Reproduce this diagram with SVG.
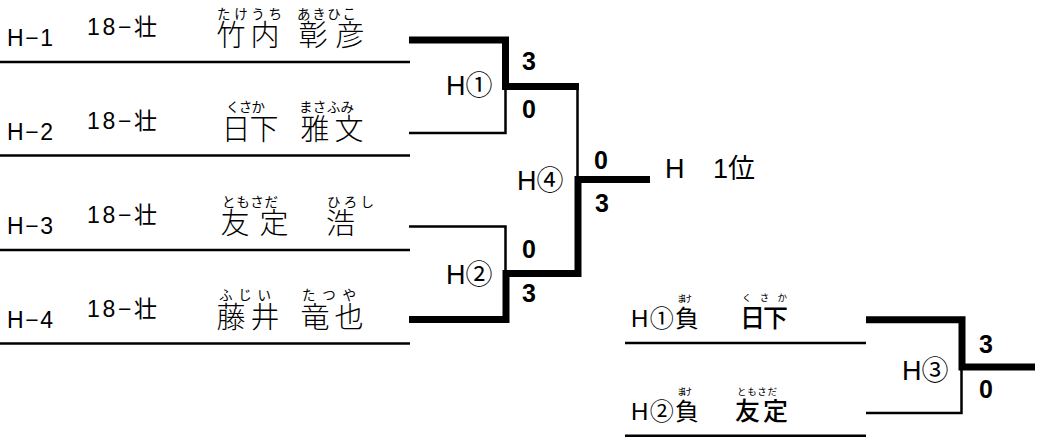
<svg xmlns="http://www.w3.org/2000/svg" width="1037" height="438" viewBox="0 0 1037 438">
<style>
.bg{fill:#fff}
.ul{stroke:#000;stroke-width:2.5;fill:none}
.thin{stroke:#000;stroke-width:2.5;fill:none}
.thick{stroke:#000;stroke-width:7;fill:none;stroke-linejoin:miter;stroke-linecap:butt}
.lab{font-family:"Liberation Sans","Noto Sans CJK JP",sans-serif;font-size:23px;fill:#000}
.name{font-family:"Noto Sans CJK JP",sans-serif;font-size:29px;font-weight:300;fill:#000}
.ruby{font-family:"Noto Sans CJK JP",sans-serif;font-size:13.5px;fill:#000}
.match{font-family:"Liberation Sans","Noto Sans CJK JP",sans-serif;font-size:27px;fill:#000}
.score{font-family:"Liberation Sans",sans-serif;font-size:25px;font-weight:bold;fill:#000}
.sub{font-family:"Liberation Sans","Noto Sans CJK JP",sans-serif;font-size:24px;fill:#000}
.subname{font-family:"Noto Sans CJK JP",sans-serif;font-size:25px;font-weight:500;fill:#000}
.subruby{font-family:"Noto Sans CJK JP",sans-serif;font-size:9.5px;fill:#000}
</style>
<rect class="bg" x="0" y="0" width="1037" height="438"/>

<g id="entry-H1">
<line class="ul" x1="0" y1="62" x2="410" y2="62"/>
<text class="lab" x="7" y="46" textLength="46" lengthAdjust="spacing">H−1</text>
<text class="lab" x="87" y="35" textLength="70" lengthAdjust="spacing">18−壮</text>
<text class="ruby" x="217" y="18.5" textLength="65" lengthAdjust="spacing">たけうち</text>
<text class="ruby" x="297" y="18.5" textLength="59" lengthAdjust="spacing">あきひこ</text>
<text class="name" x="216.5" y="46" textLength="63" lengthAdjust="spacing">竹内</text>
<text class="name" x="298.5" y="46" textLength="66" lengthAdjust="spacing">彰彦</text>
</g>

<g id="entry-H2">
<line class="ul" x1="0" y1="155.5" x2="410" y2="155.5"/>
<text class="lab" x="7" y="139.5" textLength="46" lengthAdjust="spacing">H−2</text>
<text class="lab" x="87" y="128.5" textLength="70" lengthAdjust="spacing">18−壮</text>
<text class="ruby" x="226" y="112" textLength="39" lengthAdjust="spacing">くさか</text>
<text class="ruby" x="299" y="112" textLength="55" lengthAdjust="spacing">まさふみ</text>
<text class="name" x="221.5" y="139.5" textLength="57" lengthAdjust="spacing">日下</text>
<text class="name" x="300.5" y="139.5" textLength="63" lengthAdjust="spacing">雅文</text>
</g>

<g id="entry-H3">
<line class="ul" x1="0" y1="250" x2="410" y2="250"/>
<text class="lab" x="7" y="234" textLength="46" lengthAdjust="spacing">H−3</text>
<text class="lab" x="87" y="223" textLength="70" lengthAdjust="spacing">18−壮</text>
<text class="ruby" x="222" y="206.5" textLength="56" lengthAdjust="spacing">ともさだ</text>
<text class="ruby" x="327" y="206.5" textLength="47" lengthAdjust="spacing">ひろし</text>
<text class="name" x="220.5" y="234" textLength="68" lengthAdjust="spacing">友定</text>
<text class="name" x="326" y="234">浩</text>
</g>

<g id="entry-H4">
<line class="ul" x1="0" y1="343.5" x2="410" y2="343.5"/>
<text class="lab" x="7" y="327.5" textLength="46" lengthAdjust="spacing">H−4</text>
<text class="lab" x="87" y="316.5" textLength="70" lengthAdjust="spacing">18−壮</text>
<text class="ruby" x="219" y="300" textLength="52" lengthAdjust="spacing">ふじい</text>
<text class="ruby" x="302" y="300" textLength="54" lengthAdjust="spacing">たつや</text>
<text class="name" x="216.5" y="327.5" textLength="63" lengthAdjust="spacing">藤井</text>
<text class="name" x="300.5" y="327.5" textLength="63" lengthAdjust="spacing">竜也</text>
</g>

<g id="entry-L1">
<line class="ul" x1="625" y1="343" x2="866" y2="343"/>
<text class="sub" x="631" y="327" textLength="68" lengthAdjust="spacing">H①負</text>
<text class="subruby" x="677" y="302" textLength="15" lengthAdjust="spacing">まけ</text>
<text class="subruby" x="742" y="301" textLength="45" lengthAdjust="spacing">くさか</text>
<text class="subname" x="740" y="327" textLength="48" lengthAdjust="spacing">日下</text>
</g>

<g id="entry-L2">
<line class="ul" x1="625" y1="435.7" x2="866" y2="435.7"/>
<text class="sub" x="631" y="420" textLength="68" lengthAdjust="spacing">H②負</text>
<text class="subruby" x="677" y="395" textLength="15" lengthAdjust="spacing">まけ</text>
<text class="subruby" x="737" y="395" textLength="40" lengthAdjust="spacing">ともさだ</text>
<text class="subname" x="735" y="420" textLength="53" lengthAdjust="spacing">友定</text>
</g>

<g id="connectors">
<path class="thick" d="M409,40 H505.5 V86.5 H579"/>
<path class="thin" d="M409,133 H505.5 V88"/>
<path class="thin" d="M409,226.5 H505.5 V272"/>
<path class="thick" d="M409,319.5 H506 V273.5 H578 V179.5 H650"/>
<path class="thin" d="M577.5,88 V178"/>
<path class="thick" d="M866,319.7 H962 V367 H1035"/>
<path class="thin" d="M866,413 H961.5 V368"/>
</g>

<g id="match-H1">
<text class="match" x="446" y="95">H①</text>
<text class="score" x="522" y="70">3</text>
<text class="score" x="522" y="118">0</text>
</g>
<g id="match-H2">
<text class="match" x="446" y="284">H②</text>
<text class="score" x="522" y="258">0</text>
<text class="score" x="522" y="302">3</text>
</g>
<g id="match-H4">
<text class="match" x="517" y="190">H④</text>
<text class="score" x="594" y="169">0</text>
<text class="score" x="595" y="212">3</text>
</g>
<g id="match-H3">
<text class="match" x="902" y="380">H③</text>
<text class="score" x="979" y="353">3</text>
<text class="score" x="979" y="398">0</text>
</g>
<g id="result">
<text class="match" x="665" y="178" font-size="25">H</text>
<text class="match" x="713" y="178" font-size="25">1位</text>
</g>
</svg>
